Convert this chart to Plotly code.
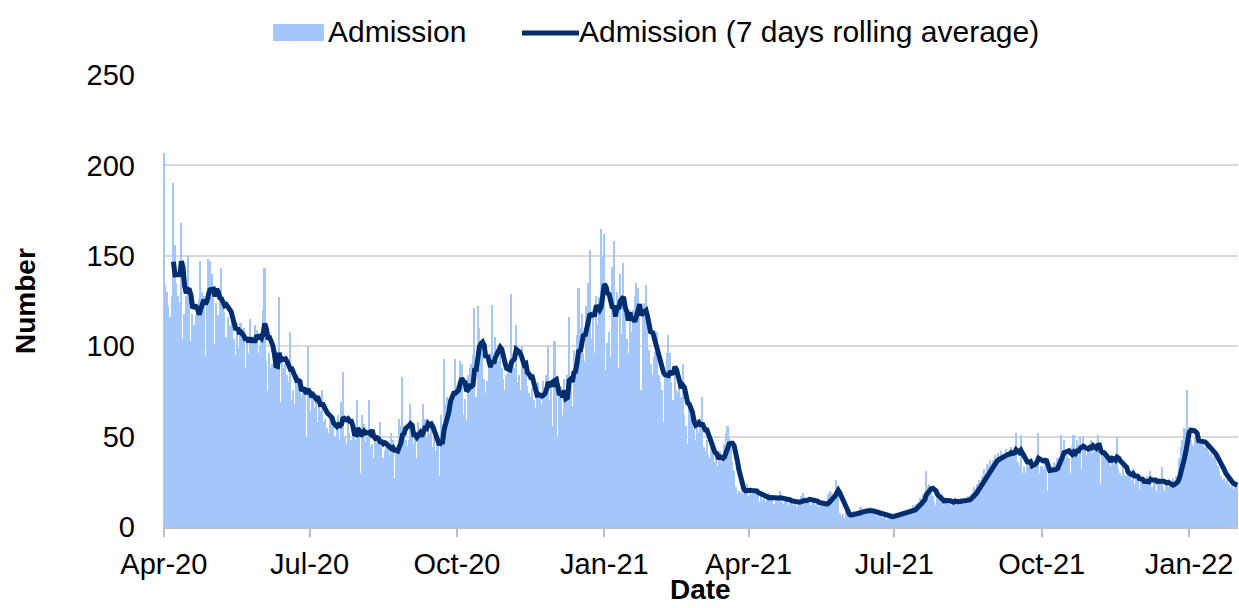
import pandas as pd
import plotly.graph_objects as go

start_date = "2020-04-01"

# Daily admissions (rows of 7 days)
adm_2020_apr_jun = [
    207, 134, 130, 122, 116, 128, 190,
    156, 135, 128, 124, 168, 104, 118,
    128, 150, 126, 103, 118, 112, 117,
    120, 126, 147, 130, 128, 95, 129,
    148, 147, 140, 133, 101, 124, 117,
    125, 143, 128, 119, 105, 116, 111,
    112, 120, 104, 95, 113, 99, 113,
    106, 110, 88, 104, 96, 115, 102,
    104, 112, 109, 96, 100, 108, 120,
    143, 92, 75, 96, 88, 90, 88,
    95, 90, 127, 69, 92, 88, 90,
    84, 80, 108, 70, 76, 68, 81,
    84, 76, 72, 78, 74, 50, 100,
]
adm_2020_jul_sep = [
    72, 64, 75, 66, 70, 58, 71,
    64, 76, 58, 60, 55, 52, 62,
    60, 56, 50, 54, 62, 48, 69,
    86, 50, 46, 58, 52, 48, 52,
    54, 48, 70, 50, 30, 62, 57,
    47, 50, 70, 44, 46, 38, 48,
    50, 46, 58, 44, 38, 42, 44,
    44, 40, 52, 48, 27, 42, 41,
    60, 56, 83, 52, 48, 45, 48,
    68, 50, 46, 52, 38, 58, 52,
    55, 68, 60, 50, 58, 52, 56,
    44, 50, 42, 46, 28, 62, 57,
    93, 68, 72, 66, 70, 74, 75,
]
adm_2020_oct_dec = [
    93, 78, 74, 92, 90, 62, 71,
    59, 84, 88, 90, 95, 121, 72,
    122, 110, 100, 96, 82, 74, 81,
    90, 96, 123, 88, 105, 92, 92,
    100, 88, 82, 76, 84, 90, 89,
    129, 96, 88, 112, 80, 84, 76,
    100, 88, 92, 78, 74, 72, 77,
    70, 66, 74, 80, 72, 68, 81,
    76, 84, 100, 70, 78, 56, 103,
    80, 50, 74, 78, 62, 82, 71,
    84, 116, 80, 67, 98, 86, 106,
    132, 110, 118, 96, 92, 122, 135,
    153, 104, 120, 96, 128, 112, 127,
]
adm_2021_jan_mar = [
    165, 150, 162, 87, 102, 108, 94,
    144, 158, 122, 130, 88, 140, 107,
    146, 118, 104, 96, 120, 108, 120,
    128, 135, 132, 120, 76, 118, 124,
    134, 110, 98, 90, 84, 94, 97,
    108, 84, 80, 76, 58, 86, 96,
    106, 96, 80, 70, 86, 76, 74,
    80, 72, 90, 62, 56, 46, 70,
    62, 58, 54, 48, 60, 52, 58,
    72, 44, 42, 48, 40, 38, 45,
    40, 36, 38, 34, 42, 36, 40,
    46, 52, 56, 50, 44, 36, 31,
    22, 18, 20, 19, 21, 18, 22,
]
adm_2021_apr_jun = [
    24, 17, 21, 18, 20, 19, 21,
    18, 14, 17, 15, 16, 14, 18,
    19, 15, 16, 13, 17, 15, 17,
    20, 14, 13, 16, 15, 12, 15,
    16, 12, 15, 11, 14, 13, 17,
    19, 14, 13, 16, 15, 12, 16,
    15, 12, 14, 11, 13, 12, 14,
    13, 12, 18, 20, 19, 17, 20,
    26, 22, 8, 6, 7, 5, 9,
    6, 8, 5, 7, 9, 6, 8,
    9, 11, 8, 10, 7, 9, 9,
    11, 9, 7, 8, 6, 7, 8,
    7, 5, 6, 4, 6, 7, 7,
]
adm_2021_jul_sep = [
    5, 6, 8, 7, 6, 8, 9,
    8, 7, 9, 8, 10, 9, 12,
    11, 13, 14, 16, 15, 18, 18,
    31, 22, 24, 20, 17, 14, 12,
    16, 15, 14, 18, 12, 16, 14,
    13, 15, 12, 14, 16, 13, 15,
    14, 16, 13, 15, 14, 17, 16,
    18, 20, 22, 21, 24, 26, 23,
    28, 32, 30, 35, 34, 37, 35,
    37, 40, 36, 41, 38, 42, 39,
    40, 43, 38, 42, 44, 39, 41,
    52, 36, 34, 51, 30, 33, 30,
    38, 34, 37, 35, 33, 36, 39,
]
adm_2021_oct_dec = [
    52, 30, 34, 32, 36, 34, 20,
    33, 31, 34, 36, 35, 38, 38,
    51, 42, 48, 38, 40, 38, 30,
    45, 51, 42, 48, 40, 50, 32,
    50, 46, 40, 44, 46, 48, 41,
    44, 42, 51, 45, 24, 40, 41,
    38, 36, 40, 34, 37, 38, 36,
    50, 32, 30, 28, 34, 29, 28,
    30, 28, 26, 32, 24, 29, 27,
    21, 25, 27, 23, 26, 28, 25,
    31, 22, 26, 24, 20, 27, 25,
    33, 22, 20, 24, 22, 23, 24,
    27, 25, 28, 26, 38, 44, 48,
]
adm_2022_jan = [
    55, 54, 76, 50, 48, 46, 45,
    50, 48, 47, 49, 46, 45, 44,
    44, 42, 40, 41, 38, 39, 36,
    34, 31, 28, 26, 27, 25, 26,
    24, 22, 23, 21, 22, 24,
]

tick_dates = ["2020-04-01", "2020-07-01", "2020-10-01", "2021-01-01",
              "2021-04-01", "2021-07-01", "2021-10-01", "2022-01-01"]
tick_labels = ["Apr-20", "Jul-20", "Oct-20", "Jan-21",
               "Apr-21", "Jul-21", "Oct-21", "Jan-22"]

admissions = (adm_2020_apr_jun + adm_2020_jul_sep + adm_2020_oct_dec +
              adm_2021_jan_mar + adm_2021_apr_jun + adm_2021_jul_sep +
              adm_2021_oct_dec + adm_2022_jan)
dates = pd.date_range(start_date, periods=len(admissions), freq="D")
rolling = pd.Series(admissions).rolling(7).mean()

FONT = "Liberation Sans, Arial, sans-serif"
BAR_COLOR = "#A3C7FB"
LINE_COLOR = "#002D6E"
W, H = 1239, 608
ML, MR, MT, MB = 163, 1, 75, 81
PW, PH = W - ML - MR, H - MT - MB


def px_x(px):
    return (px - ML) / PW


def px_y(py):
    return (H - MB - py) / PH


fig = go.Figure()
fig.add_trace(go.Bar(
    x=dates, y=admissions, name="Admission",
    marker=dict(color=BAR_COLOR, line=dict(width=0)),
))
fig.add_trace(go.Scatter(
    x=dates, y=rolling, name="Admission (7 days rolling average)",
    mode="lines", line=dict(color=LINE_COLOR, width=5),
))

fig.update_layout(
    width=W, height=H,
    margin=dict(l=ML, r=MR, t=MT, b=MB, autoexpand=False),
    paper_bgcolor="white", plot_bgcolor="white",
    bargap=0,
    font=dict(family=FONT, size=29, color="#000000"),
    showlegend=False,
)
fig.update_xaxes(
    type="date", automargin=False,
    range=["2020-03-31 12:00", "2022-01-31 12:00"],
    tickvals=tick_dates, ticktext=tick_labels,
    showgrid=False, showline=True, linecolor="#BFBFBF", linewidth=1.5,
    ticks="outside", ticklen=8, tickcolor="#BFBFBF", tickwidth=1.5,
    tickfont=dict(size=29), ticklabelstandoff=2,
)
fig.update_yaxes(
    range=[0, 250], dtick=50, tick0=0, automargin=False,
    showgrid=True, gridcolor="#D9D9D9", gridwidth=1.5,
    zeroline=False, showline=False, ticks="",
    tickfont=dict(size=29), ticklabelstandoff=27,
)

# Legend (drawn in the top margin to match the reference's swatches)
fig.add_shape(type="rect", xref="paper", yref="paper",
              x0=px_x(273), x1=px_x(324), y0=px_y(41), y1=px_y(24),
              fillcolor=BAR_COLOR, line=dict(width=0))
fig.add_annotation(text=fig.data[0].name, xref="paper", yref="paper",
                   x=px_x(326), y=px_y(32), xanchor="left", yanchor="middle",
                   showarrow=False, font=dict(size=30))
fig.add_shape(type="line", xref="paper", yref="paper",
              x0=px_x(522), x1=px_x(579), y0=px_y(33), y1=px_y(33),
              line=dict(color=LINE_COLOR, width=5))
fig.add_annotation(text=fig.data[1].name, xref="paper", yref="paper",
                   x=px_x(577), y=px_y(32), xanchor="left", yanchor="middle",
                   showarrow=False, font=dict(size=30))

fig.add_annotation(text="<b>Number</b>", xref="paper", yref="paper",
                   x=px_x(25), y=0.5, textangle=-90, showarrow=False,
                   xanchor="center", yanchor="middle", font=dict(size=28))
fig.add_annotation(text="<b>Date</b>", xref="paper", yref="paper",
                   x=px_x(700), y=px_y(607), showarrow=False,
                   xanchor="center", yanchor="bottom", font=dict(size=28))

fig.write_html(
    "out.html",
    config={"displayModeBar": False},
    post_script="document.documentElement.style.margin='0';"
                "document.body.style.margin='0';"
                "document.body.style.overflow='hidden';",
)
